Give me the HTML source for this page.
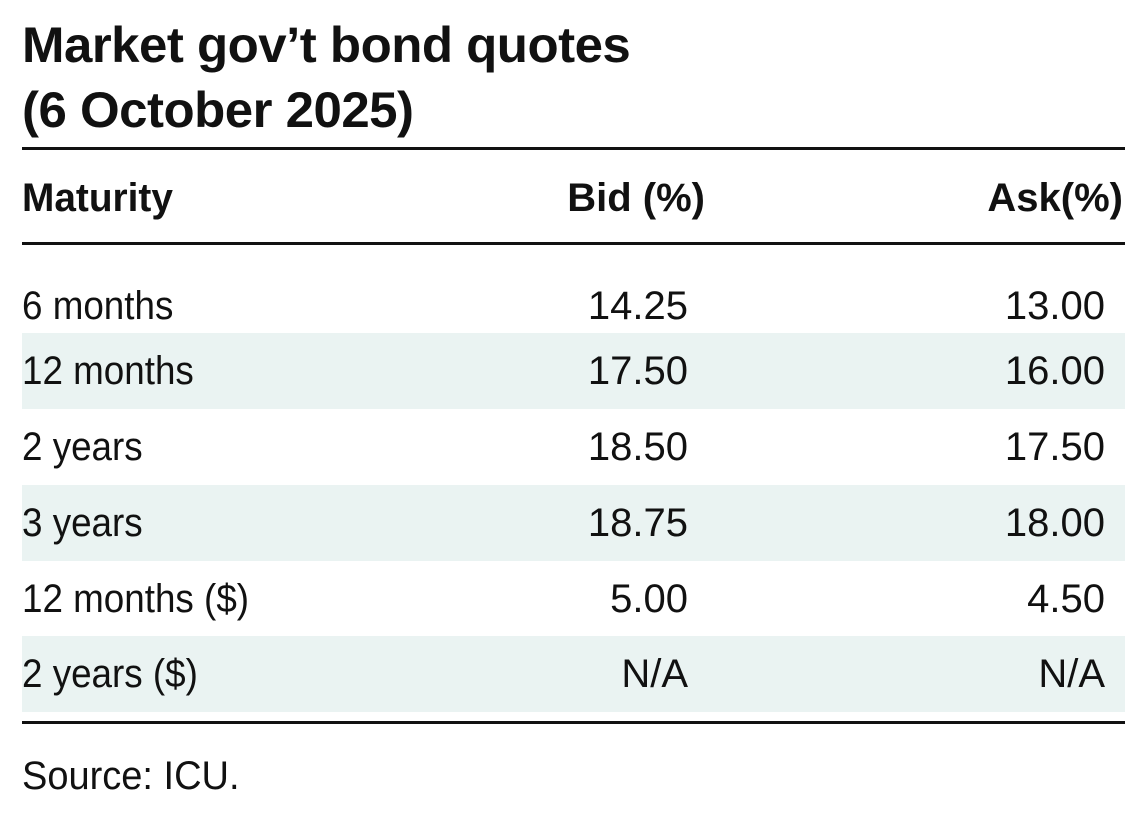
<!DOCTYPE html>
<html><head><meta charset="utf-8"><style>
body{margin:0;width:1146px;height:832px;background:#fff;overflow:hidden;position:relative;font-family:"Liberation Sans Narrow","Liberation Sans",sans-serif;color:#111}
.t{position:absolute;left:22px;font-weight:bold;font-size:50px;line-height:50px;letter-spacing:-0.5px;transform:scaleX(1.02);transform-origin:left}
.rule{position:absolute;left:22px;width:1103px;background:#111}
.row{position:absolute;left:22px;width:1103px;height:76px;font-size:40px;line-height:76px}
.s{background:#eaf3f2}
.c1{position:absolute;left:0;transform:scaleX(0.92);transform-origin:left}
.c2{position:absolute;right:437px}
.c3{position:absolute;right:20px}
.h{font-weight:bold}
</style></head><body>
<div class="t" style="top:20px">Market gov’t bond quotes</div>
<div class="t" style="top:85px">(6 October 2025)</div>
<div class="rule" style="top:147px;height:3px"></div>
<div class="row h" style="top:160px"><span class="c1" style="transform:scaleX(0.97)">Maturity</span><span class="c2" style="right:420px">Bid (%)</span><span class="c3" style="right:2px">Ask(%)</span></div>
<div class="rule" style="top:242px;height:3px"></div>
<div class="row" style="top:266px;height:66px;line-height:80px"><span class="c1">6 months</span><span class="c2">14.25</span><span class="c3">13.00</span></div>
<div class="row s" style="top:333px"><span class="c1">12 months</span><span class="c2">17.50</span><span class="c3">16.00</span></div>
<div class="row" style="top:409px"><span class="c1">2 years</span><span class="c2">18.50</span><span class="c3">17.50</span></div>
<div class="row s" style="top:485px"><span class="c1">3 years</span><span class="c2">18.75</span><span class="c3">18.00</span></div>
<div class="row" style="top:561px"><span class="c1">12 months ($)</span><span class="c2">5.00</span><span class="c3">4.50</span></div>
<div class="row s" style="top:636px"><span class="c1">2 years ($)</span><span class="c2">N/A</span><span class="c3">N/A</span></div>
<div class="rule" style="top:721px;height:3px"></div>
<div class="row" style="top:738px"><span class="c1" style="transform:scaleX(0.95)">Source: ICU.</span></div>
</body></html>
